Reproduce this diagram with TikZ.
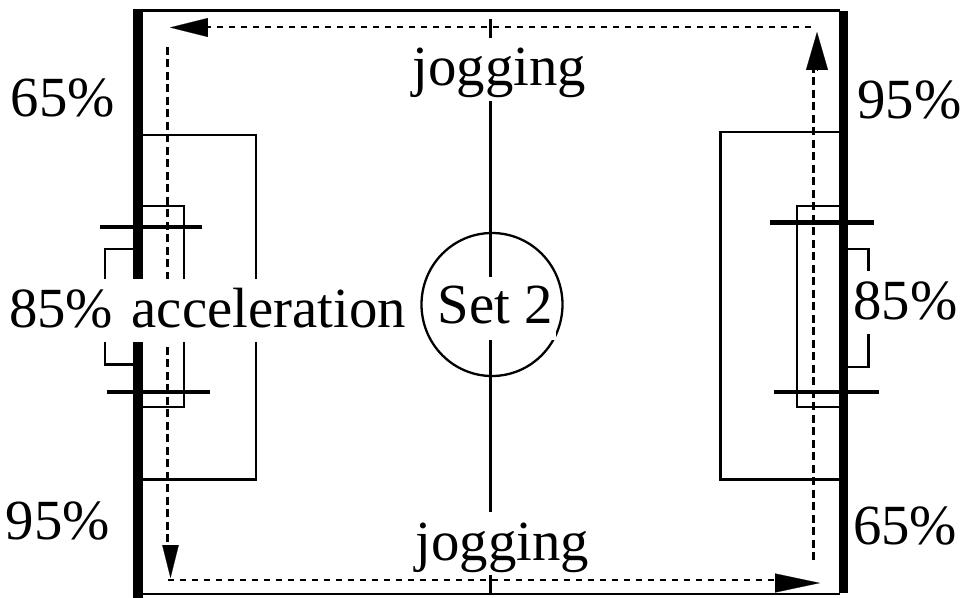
\documentclass[tikz,border=0pt]{standalone}
\usepackage{fontspec}
\setmainfont{Liberation Serif}
\usetikzlibrary{positioning,arrows.meta}
\tikzset{
  thinline/.style={line width=0.046cm},
  sideline/.style={line width=0.19cm},
  crossline/.style={line width=0.09cm},
  runhoriz/.style={line width=0.055cm, dash pattern=on 0.115cm off 0.125cm},
  runvert/.style={line width=0.055cm, dash pattern=on 0.16cm off 0.09cm},
  runtip/.style={line width=0.1pt, -{Triangle[#1]}},
  labelbox/.style={fill=white, inner sep=0pt, inner xsep=0.06cm, anchor=base,
    text height=0.97cm, text depth=0.30cm, font=\fontsize{32.3}{36}\selectfont},
}
\begin{document}
\begin{tikzpicture}[x=0.02cm,y=-0.02cm]
\useasboundingbox (0,0) rectangle (963,598);

% Field outline
\draw[thinline] (138,10.5) -- (840,10.5);
\draw[thinline] (143,594) -- (840,594);
\draw[sideline] (138,9) -- (138,598);
\draw[sideline] (843.5,11.5) -- (843.5,593);

% Halfway line and centre circle
\draw[thinline] (490.5,19) -- (490.5,594);
\draw[thinline] (492,304.5) circle [x radius=70.5, y radius=71.5];

% Large boxes
\draw[thinline] (143,135) -- (256,135) -- (256,479.5) -- (143,479.5);
\draw[thinline] (839,132) -- (720.5,132) -- (720.5,479.5) -- (839,479.5);

% Small boxes
\draw[thinline] (143,206) -- (184,206) -- (184,407) -- (143,407);
\draw[thinline] (839,206) -- (797,206) -- (797,407) -- (839,407);

% Cross bars
\draw[crossline] (100,227) -- (202,227);
\draw[crossline] (107,392) -- (209.5,392);
\draw[crossline] (769.5,222.5) -- (874,222.5);
\draw[crossline] (774,392) -- (879,392);

% Brackets
\draw[thinline] (133,249) -- (105,249) -- (105,364.5) -- (133,364.5);
\draw[thinline] (848,249) -- (868.5,249) -- (868.5,367) -- (848,367);

% Running path
\draw[runhoriz] (811,27) -- (208,27);
\draw[runvert] (167.5,47) -- (167.5,545);
\draw[runhoriz] (168,580) -- (775,580);
\draw[runvert] (813.5,560) -- (813.5,70);
\draw[runtip={length=0.76cm,width=0.38cm}] (208,27.5) -- (170,27.5);
\draw[runtip={length=0.66cm,width=0.33cm}] (170.5,545) -- (170.5,578);
\draw[runtip={length=0.9cm,width=0.38cm}] (775,583) -- (820,583);
\draw[runtip={length=0.76cm,width=0.44cm}] (817,70) -- (817,32);

% Labels
\node[labelbox] (joggingtop) at (499.5,86) {jogging};
\node[labelbox] (joggingbot) at (502.5,560) {jogging};
\node[labelbox, text height=0.93cm, text depth=0.34cm] (setlabel) at (495,323) {Set 2};
\node[labelbox] (accel) at (207.5,327) {85\%\hspace{0.37cm}acceleration};
\node[labelbox] (pcttl) at (63,116) {65\%};
\node[labelbox] (pctbl) at (58,539.5) {95\%};
\node[labelbox] (pcttr) at (909.5,118) {95\%};
\node[labelbox] (pctmr) at (905.5,319) {85\%};
\node[labelbox] (pctbr) at (905,544) {65\%};
\end{tikzpicture}
\end{document}
